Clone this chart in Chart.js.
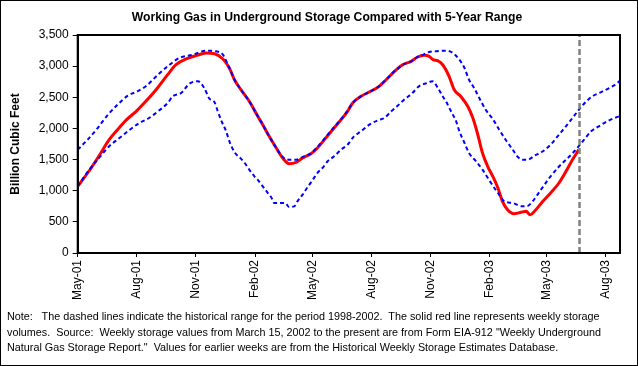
<!DOCTYPE html>
<html>
<head>
<meta charset="utf-8">
<script src="https://cdn.jsdelivr.net/npm/chart.js@4.4.0/dist/chart.umd.min.js"></script>
<style>
  body { margin: 0; background: #fff; }
  #wrap { position: relative; width: 638px; height: 366px; }
  #title {
    position: absolute; left: 0; width: 654px; top: 10px; text-align: center;
    font: bold 12.2px "Liberation Sans", Arial, sans-serif; color: #000;
  }
  #note {
    position: absolute; left: 7px; top: 309px;
    font: 10.8px "Liberation Sans", Arial, sans-serif; line-height: 15.5px;
    white-space: pre; color: #000;
  }
</style>
</head>
<body>
<div id="wrap">
  <canvas id="gasChart" width="638" height="366"></canvas>
  <div id="title">Working Gas in Underground Storage Compared with 5-Year Range</div>
  <div id="note">Note:   The dashed lines indicate the historical range for the period 1998-2002.  The solid red line represents weekly storage
volumes.  Source:  Weekly storage values from March 15, 2002 to the present are from Form EIA-912 "Weekly Underground
Natural Gas Storage Report."  Values for earlier weeks are from the Historical Weekly Storage Estimates Database.</div>
</div>
<script>
// x values are days since 1 May 2001
const tickDays = [0, 92, 184, 276, 365, 457, 549, 641, 730, 822];
const tickLabels = ['May-01', 'Aug-01', 'Nov-01', 'Feb-02', 'May-02', 'Aug-02', 'Nov-02', 'Feb-03', 'May-03', 'Aug-03'];

// weekly storage (red)
const storageDays = [0, 21, 36, 49, 62, 75, 91, 106, 122, 140, 153, 169, 184, 200, 213, 226, 236, 244, 254, 267,
    280, 288, 298, 309, 319, 329, 340, 350, 363, 373, 386, 399, 412, 420, 428, 441, 456, 469, 480, 493,
    506, 519, 529, 539, 547, 553, 560, 568, 578, 586, 596, 607, 615, 622, 630, 638, 646, 654, 661, 669,
    679, 690, 698, 704, 713, 724, 736, 749, 760, 770, 780];
const storageValues = [1070, 1365, 1605, 1819, 1980, 2130, 2275, 2436, 2622, 2863, 3023, 3115, 3168, 3211, 3200, 3115, 2970, 2782, 2622, 2436,
    2200, 2060, 1873, 1686, 1525, 1434, 1456, 1525, 1594, 1686, 1846, 2007, 2167, 2275, 2408, 2516, 2596, 2676, 2782, 2917,
    3023, 3077, 3147, 3174, 3158, 3104, 3087, 3023, 2837, 2622, 2516, 2355, 2167, 1927, 1605, 1392, 1231, 1044, 830, 695,
    631, 653, 669, 615, 695, 830, 963, 1124, 1312, 1498, 1659];

// 5-year maximum (upper dashed)
const maxDays = [0, 13, 29, 47, 62, 78, 93, 106, 125, 140, 158, 179, 200, 215, 226, 236, 244, 254, 267, 280,
    288, 298, 309, 319, 329, 340, 350, 363, 373, 386, 399, 412, 420, 428, 441, 456, 469, 480, 493, 506,
    519, 529, 539, 547, 557, 573, 584, 594, 602, 609, 617, 625, 635, 646, 656, 666, 677, 685, 692, 700,
    711, 724, 736, 749, 762, 774, 788, 801, 814, 827, 840, 845];
const maxValues = [1659, 1793, 1980, 2220, 2381, 2526, 2596, 2676, 2863, 2997, 3131, 3184, 3248, 3238, 3184, 2970, 2782, 2622, 2436, 2200,
    2060, 1873, 1686, 1540, 1498, 1498, 1540, 1600, 1700, 1860, 2020, 2175, 2285, 2408, 2516, 2596, 2676, 2782, 2917, 3023,
    3077, 3147, 3190, 3227, 3238, 3248, 3211, 3104, 2970, 2782, 2649, 2488, 2301, 2151, 1980, 1819, 1659, 1541, 1498, 1498,
    1562, 1633, 1739, 1899, 2060, 2220, 2397, 2516, 2580, 2649, 2729, 2782];

// 5-year minimum (lower dashed)
const minDays = [0, 18, 33, 49, 65, 80, 96, 111, 125, 140, 148, 161, 174, 187, 197, 205, 213, 218, 224, 231,
    237, 245, 253, 260, 267, 275, 280, 288, 296, 301, 306, 316, 323, 329, 337, 342, 350, 358, 366, 373,
    381, 389, 399, 410, 420, 430, 441, 454, 467, 477, 488, 498, 508, 521, 531, 544, 552, 560, 568, 573,
    581, 589, 594, 602, 609, 620, 630, 640, 654, 664, 677, 692, 700, 708, 721, 734, 747, 760, 773, 786,
    799, 811, 827, 845];
const minValues = [1071, 1338, 1525, 1713, 1846, 1970, 2087, 2167, 2275, 2408, 2516, 2569, 2718, 2757, 2649, 2477, 2419, 2275, 2114, 1954,
    1766, 1605, 1525, 1445, 1338, 1231, 1177, 1071, 963, 899, 803, 803, 803, 738, 749, 830, 936, 1060, 1177, 1284,
    1365, 1472, 1552, 1659, 1739, 1873, 1954, 2060, 2130, 2167, 2275, 2365, 2461, 2569, 2676, 2729, 2757, 2660, 2516, 2436,
    2275, 2114, 1954, 1766, 1605, 1472, 1338, 1177, 963, 830, 803, 749, 755, 830, 1017, 1204, 1365, 1498, 1633, 1793,
    1954, 2034, 2130, 2204];

// current week marker
const markerDay = 781;

const toPoints = (xs, ys) => xs.map((x, i) => ({ x, y: ys[i] }));
const FONT = '"Liberation Sans", Arial, sans-serif';

Chart.defaults.color = '#000';
Chart.defaults.font.family = FONT;

const frame = {
    id: 'frame',
    afterDraw(chart) {
        const { ctx, chartArea: a } = chart;
        ctx.save();
        ctx.strokeStyle = '#000';
        ctx.lineWidth = 2;
        ctx.strokeRect(a.left, a.top, a.right - a.left, a.bottom - a.top);
        ctx.lineWidth = 1;
        ctx.strokeRect(0.5, 0.5, chart.width - 1, chart.height - 1);
        ctx.restore();
    }
};

new Chart(document.getElementById('gasChart'), {
    type: 'line',
    data: {
        datasets: [
            {
                data: [{ x: markerDay, y: 0 }, { x: markerDay, y: 3500 }],
                borderColor: '#808080', borderWidth: 2.5, borderDash: [6, 3]
            },
            {
                data: toPoints(maxDays, maxValues),
                borderColor: '#0000ff', borderWidth: 2, borderDash: [4, 3],
                cubicInterpolationMode: 'monotone'
            },
            {
                data: toPoints(minDays, minValues),
                borderColor: '#0000ff', borderWidth: 2, borderDash: [4, 3],
                cubicInterpolationMode: 'monotone'
            },
            {
                data: toPoints(storageDays, storageValues),
                borderColor: '#ff0000', borderWidth: 3,
                cubicInterpolationMode: 'monotone'
            }
        ]
    },
    options: {
        responsive: false,
        animation: false,
        elements: { point: { radius: 0 } },
        layout: { padding: { left: 0, right: 18, top: 35, bottom: 58 } },
        plugins: {
            legend: { display: false },
            tooltip: { enabled: false },
            title: { display: false }
        },
        scales: {
            x: {
                type: 'linear',
                min: 0,
                max: 844,
                afterBuildTicks(axis) { axis.ticks = tickDays.map(v => ({ value: v })); },
                afterFit(axis) { axis.height = 55; },
                grid: { drawOnChartArea: false, color: '#000', tickLength: 4 },
                border: { color: '#000', width: 2 },
                ticks: {
                    autoSkip: false, minRotation: 90, maxRotation: 90, padding: 3,
                    font: { size: 12 },
                    callback: v => tickLabels[tickDays.indexOf(v)]
                }
            },
            y: {
                min: 0,
                max: 3500,
                afterFit(axis) { axis.width = 77.7; },
                grid: { drawOnChartArea: false, color: '#000', tickLength: 5 },
                border: { color: '#000', width: 2 },
                ticks: {
                    stepSize: 500, padding: 4,
                    font: { size: 12 },
                    callback: v => v.toLocaleString('en-US')
                },
                title: {
                    display: true,
                    text: 'Billion Cubic Feet',
                    font: { size: 12, weight: 'bold', family: FONT },
                    padding: { top: 8, bottom: 0 }
                }
            }
        }
    },
    plugins: [frame]
});
</script>
</body>
</html>
